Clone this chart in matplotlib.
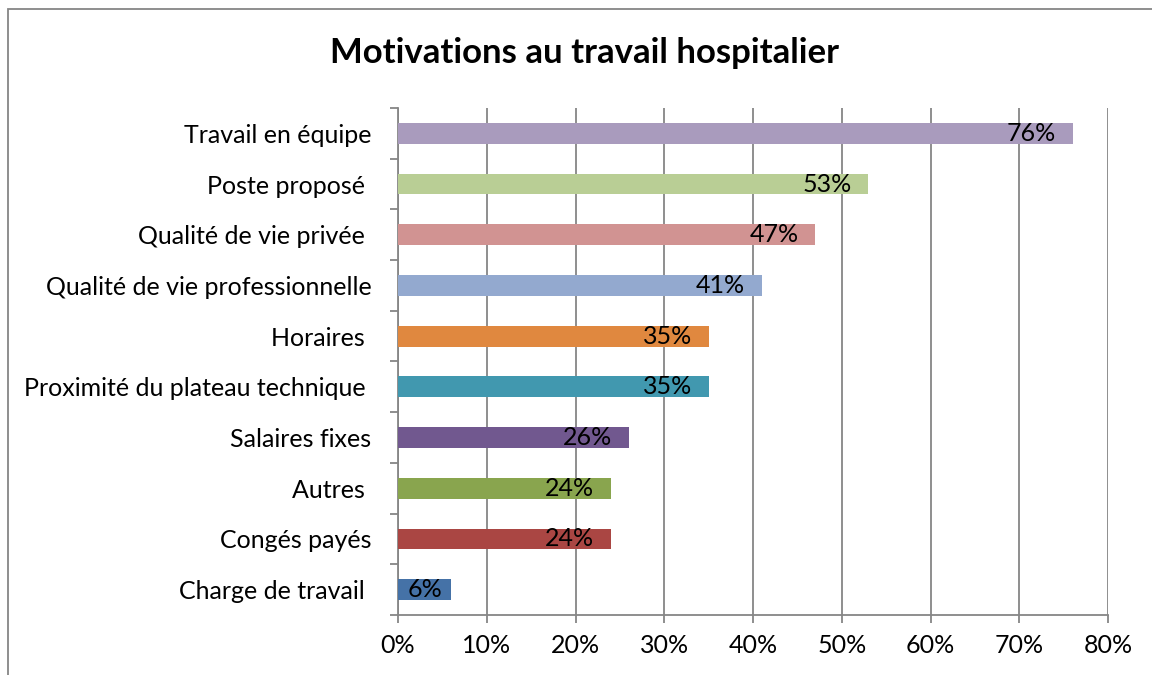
import matplotlib
matplotlib.use("Agg")
import matplotlib.pyplot as plt
from matplotlib.patches import Rectangle
from matplotlib.ticker import FixedLocator, PercentFormatter

plt.rcParams['font.family'] = ['Lato', 'DejaVu Sans']

categories = ["Travail en équipe", "Poste proposé ", "Qualité de vie privée ",
              "Qualité de vie professionnelle", "Horaires ",
              "Proximité du plateau technique ", "Salaires fixes", "Autres ",
              "Congés payés", "Charge de travail "]
values = [76, 53, 47, 41, 35, 35, 26, 24, 24, 6]
colors = ["#A99BBD", "#B9CE95", "#D19392", "#93A9CF", "#E0883F",
          "#4198AF", "#71588F", "#89A54E", "#AA4643", "#4572A7"]
title = "Motivations au travail hospitalier"
xticks = [0, 10, 20, 30, 40, 50, 60, 70, 80]

W, H = 1152, 675
fig = plt.figure(figsize=(W / 100, H / 100), dpi=100)
fig.patch.set_facecolor("white")

# chart-area border
fig.add_artist(Rectangle((8 / W, -0.1), 1.2, 1 - 9 / H + 0.1,
                         transform=fig.transFigure, fill=False,
                         edgecolor="#868686", linewidth=1.3))

left, right, top, bottom = 398 / W, 1108 / W, 1 - 108 / H, 1 - 615 / H
ax = fig.add_axes([left, bottom, right - left, top - bottom])

n = len(categories)
ypos = list(range(n))
ax.barh(ypos, values, height=0.41, color=colors, zorder=3)
ax.set_ylim(n - 0.5, -0.5)
ax.set_xlim(0, 80)

fs = 18
grid_c = "#868686"
ax.xaxis.set_major_locator(FixedLocator(xticks))
ax.xaxis.set_major_formatter(PercentFormatter(decimals=0))
ax.set_yticks(ypos)
ax.set_yticklabels(categories)
ax.yaxis.set_minor_locator(FixedLocator([i - 0.5 for i in range(n + 1)]))
ax.tick_params(axis='y', which='major', length=0, pad=19, labelsize=fs)
ax.tick_params(axis='y', which='minor', length=5.5, width=1.3, color=grid_c)
ax.tick_params(axis='x', which='major', length=5.5, width=1.3, color=grid_c,
               pad=8, labelsize=fs)
ax.grid(axis='x', color=grid_c, linewidth=1.3, zorder=0)
for s in ("top", "right"):
    ax.spines[s].set_visible(False)
for s in ("left", "bottom"):
    ax.spines[s].set_color(grid_c)
    ax.spines[s].set_linewidth(1.3)

for y, v in zip(ypos, values):
    if v < 10:
        ax.text(v / 2, y, f"{v}%", ha='center', va='center', fontsize=fs, zorder=4)
    else:
        ax.annotate(f"{v}%", (v, y), xytext=(-12, 0), textcoords='offset points',
                    ha='right', va='center', fontsize=fs, zorder=4)

fig.text(585 / W, 1 - 53 / H, title, ha='center', va='center',
         fontsize=25, fontweight='bold')

fig.savefig("out.png", dpi=100)
